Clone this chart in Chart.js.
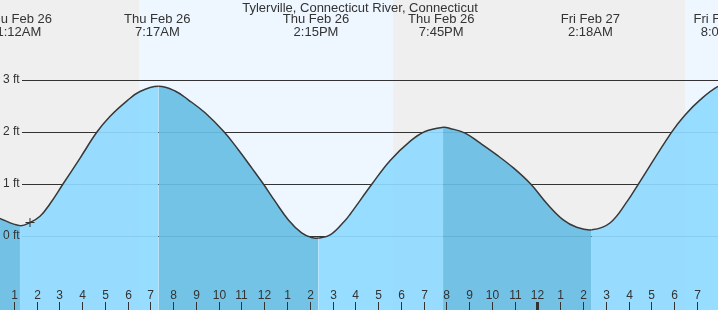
<!DOCTYPE html>
<html>
<head>
<meta charset="utf-8">
<title>Tylerville tide chart</title>
<script src="https://cdn.jsdelivr.net/npm/chart.js@4/dist/chart.umd.min.js"></script>
<style>
  body { margin: 0; background: #efefef; }
  canvas { display: block; }
</style>
</head>
<body>
<canvas id="tideChart" width="718" height="310"></canvas>
<script>
// time is in hours counted from Thu Feb 26 00:00
var hours = [0.30, 1.25, 1.69, 2.13, 2.57, 3.14, 3.89, 4.63, 5.20, 5.95, 6.52, 7.33,
  8.06, 8.64, 9.38, 10.22, 10.84, 11.43, 11.94, 12.45, 13.04, 13.62, 14.06, 14.35,
  14.87, 15.53, 15.75, 16.71, 17.50, 18.38, 19.04, 19.83,
  20.14, 20.80, 21.45, 22.19, 22.92, 23.68, 24.38, 25.11, 25.70, 26.36,
  27.16, 27.97, 28.41, 29.87, 30.46, 31.12, 31.91, 32.40];
var heights = [0.35, 0.20, 0.26, 0.38, 0.62, 1.00, 1.50, 2.00, 2.30, 2.60, 2.78, 2.88,
  2.79, 2.62, 2.37, 2.00, 1.66, 1.31, 1.00, 0.67, 0.31, 0.06, -0.03, -0.04,
  0.02, 0.30, 0.42, 1.00, 1.45, 1.82, 2.01, 2.09,
  2.07, 1.98, 1.79, 1.56, 1.31, 1.00, 0.63, 0.31, 0.17, 0.12,
  0.25, 0.70, 1.00, 2.00, 2.33, 2.62, 2.88, 2.93];

// high / low tide labels along the top
var eventHours = [1.2, 7.283, 14.25, 19.75, 26.3, 32.13];
var eventDays = ["Thu Feb 26", "Thu Feb 26", "Thu Feb 26", "Thu Feb 26", "Fri Feb 27", "Fri Feb 27"];
var eventTimes = ["1:12AM", "7:17AM", "2:15PM", "7:45PM", "2:18AM", "8:08AM"];

// sunrise -> sunset
var daylight = [[6.48, 17.64], [30.46, 34]];

var ftTicks = [0, 1, 2, 3];
var ftLabels = ["0 ft", "1 ft", "2 ft", "3 ft"];

var hourTicks = [1, 2, 3, 4, 5, 6, 7, 8, 9, 10, 11, 12, 13, 14, 15, 16, 17, 18, 19, 20,
  21, 22, 23, 24, 25, 26, 27, 28, 29, 30, 31];
var hourLabels = ["1", "2", "3", "4", "5", "6", "7", "8", "9", "10", "11", "12", "1", "2", "3", "4",
  "5", "6", "7", "8", "9", "10", "11", "12", "1", "2", "3", "4", "5", "6", "7"];
var midnight = 24;

var nowHour = 1.69;
var nowHeight = 0.26;

var title = "Tylerville, Connecticut River, Connecticut";

var lightFill = 'rgba(143, 218, 255, 0.92)';
var darkFill = 'rgba(104, 190, 228, 0.92)';
var textColor = '#333';
var topFont = '13px "Liberation Sans", Arial, sans-serif';
var axisFont = '12px "Liberation Sans", Arial, sans-serif';

var points = hours.map(function(h, i) { return {x: h, y: heights[i]}; });

var tidePlugin = {
  id: 'tide',
  beforeDraw: function(chart) {
    var c = chart.ctx, xs = chart.scales.x;
    c.save();
    c.fillStyle = '#efefef';
    c.fillRect(0, 0, chart.width, chart.height);
    c.fillStyle = '#eef7ff';
    daylight.forEach(function(d) {
      var a = xs.getPixelForValue(d[0]);
      var b = xs.getPixelForValue(d[1]);
      c.fillRect(a, 0, b - a, chart.height);
    });
    c.restore();
  },
  beforeDatasetsDraw: function(chart) {
    var c = chart.ctx, ys = chart.scales.y;
    c.save();
    c.strokeStyle = '#333';
    c.lineWidth = 1;
    ftTicks.forEach(function(v) {
      var py = Math.round(ys.getPixelForValue(v)) + 0.5;
      c.beginPath();
      c.moveTo(22, py);
      c.lineTo(chart.width, py);
      c.stroke();
    });
    c.restore();
  },
  afterDatasetsDraw: function(chart) {
    var c = chart.ctx, xs = chart.scales.x, ys = chart.scales.y;
    c.save();
    c.fillStyle = textColor;
    c.textBaseline = 'middle';

    // title and tide times
    c.font = topFont;
    c.textAlign = 'center';
    c.fillText(title, 360, 8);
    eventHours.forEach(function(h, i) {
      var px = xs.getPixelForValue(h);
      c.fillText(eventDays[i], px, 19.5);
      c.fillText(eventTimes[i], px, 32);
    });

    // feet labels
    c.font = axisFont;
    c.textAlign = 'left';
    ftTicks.forEach(function(v, i) {
      c.fillText(ftLabels[i], 3, ys.getPixelForValue(v));
    });

    // hour labels and tick marks
    c.textAlign = 'center';
    c.strokeStyle = textColor;
    hourTicks.forEach(function(h, i) {
      var px = Math.floor(xs.getPixelForValue(h));
      c.fillText(hourLabels[i], px + 0.5, 296);
      c.lineWidth = h === midnight ? 3 : 1;
      c.beginPath();
      c.moveTo(px + 0.5, 302);
      c.lineTo(px + 0.5, 310);
      c.stroke();
    });
    c.restore();
  }
};

new Chart(document.getElementById('tideChart'), {
  type: 'line',
  data: {
    datasets: [{
      data: points,
      borderColor: '#383838',
      borderWidth: 1.5,
      pointRadius: 0,
      tension: 0.4,
      fill: 'start',
      backgroundColor: lightFill,
      segment: {
        backgroundColor: function(ctx) {
          return ctx.p1.parsed.y < ctx.p0.parsed.y ? darkFill : lightFill;
        }
      }
    }, {
      data: [{x: nowHour, y: nowHeight}],
      order: -1,
      showLine: false,
      pointStyle: 'cross',
      pointRadius: 4.5,
      borderColor: '#333',
      borderWidth: 1,
      fill: false
    }]
  },
  options: {
    responsive: false,
    animation: false,
    layout: { padding: 0, autoPadding: false },
    plugins: {
      legend: { display: false },
      title: { display: false },
      tooltip: { enabled: false }
    },
    scales: {
      x: { type: 'linear', min: 0.373, max: 31.906, display: false },
      y: { type: 'linear', min: -1.423, max: 4.54, display: false }
    }
  },
  plugins: [tidePlugin]
});
</script>
</body>
</html>
